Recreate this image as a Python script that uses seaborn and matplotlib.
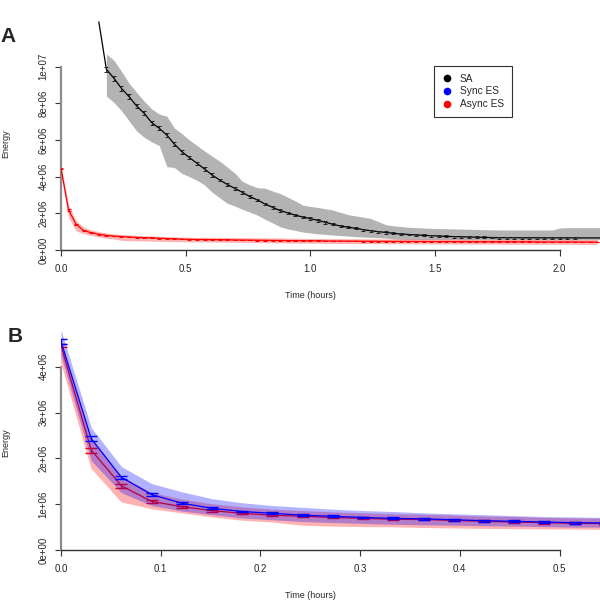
import numpy as np
import pandas as pd
import matplotlib
matplotlib.use("Agg")
import matplotlib.pyplot as plt
import seaborn as sns
from matplotlib.lines import Line2D

# ---------------- data (energy in units of 1e6) ----------------
sample_interval_h = 0.0303

# Simulated annealing (panel A)
sa_start_h = 0.1517
sa_mean = [12.45,
           9.86, 9.37, 8.82, 8.37, 7.86, 7.46, 6.95, 6.64, 6.27, 5.78,
           5.36, 5.04, 4.73, 4.42, 4.09, 3.82, 3.58, 3.36, 3.15, 2.91,
           2.73, 2.51, 2.33, 2.15, 2.03, 1.90, 1.80, 1.71, 1.62, 1.51,
           1.40, 1.31, 1.24, 1.18, 1.11, 1.05, 1.00, 0.96, 0.91, 0.87,
           0.85, 0.82, 0.80, 0.78, 0.76, 0.745, 0.73, 0.72, 0.71, 0.70,
           0.69, 0.68, 0.67, 0.67, 0.67, 0.665, 0.665, 0.665, 0.66, 0.66,
           0.66, 0.66, 0.66]
sa_err = [0.14, 0.13, 0.13, 0.12, 0.12, 0.12, 0.11, 0.11, 0.11, 0.10,
          0.10, 0.10, 0.09, 0.09, 0.09, 0.08, 0.08, 0.08, 0.08, 0.07,
          0.07, 0.07, 0.07, 0.07, 0.07, 0.07, 0.07, 0.07, 0.07, 0.07,
          0.06, 0.06, 0.06, 0.06, 0.06, 0.06, 0.06, 0.06, 0.06, 0.06,
          0.05, 0.05, 0.05, 0.05, 0.05, 0.05, 0.05, 0.05, 0.05, 0.05,
          0.05, 0.05, 0.05, 0.05, 0.05, 0.05, 0.05, 0.05, 0.05, 0.05,
          0.05, 0.05, 0.05]
sa_hi = [10.7, 10.35, 9.75, 9.1, 8.6, 8.12, 7.7, 7.42, 7.3, 6.65,
         6.35, 6.0, 5.7, 5.4, 5.12, 4.85, 4.53, 4.2, 3.75, 3.55,
         3.40, 3.37, 3.22, 3.08, 2.88, 2.68, 2.45, 2.38, 2.32, 2.25,
         2.18, 2.05, 1.93, 1.86, 1.79, 1.72, 1.55, 1.38, 1.32, 1.28,
         1.24, 1.22, 1.20, 1.18, 1.17, 1.16, 1.15, 1.14, 1.13, 1.12,
         1.11, 1.10, 1.09, 1.09, 1.09, 1.09, 1.09, 1.09, 1.09, 1.09,
         1.20, 1.22, 1.22]
sa_lo = [8.4, 8.05, 7.6, 7.05, 6.5, 6.15, 5.9, 5.7, 4.55, 4.5,
         4.18, 4.0, 3.8, 3.55, 3.15, 2.85, 2.55, 2.4, 2.22, 2.07,
         1.9, 1.68, 1.48, 1.27, 1.15, 1.07, 0.98, 0.93, 0.88, 0.85,
         0.82, 0.79, 0.76, 0.73, 0.71, 0.69, 0.67, 0.65, 0.60, 0.59,
         0.58, 0.58, 0.57, 0.57, 0.57, 0.56, 0.56, 0.56, 0.56, 0.56,
         0.56, 0.56, 0.56, 0.56, 0.56, 0.56, 0.56, 0.56, 0.56, 0.56,
         0.56, 0.56, 0.56]
sa_tail_time_h = 2.2
sa_tail_mean = 0.66
sa_tail_hi = 1.22
sa_tail_lo = 0.56

# Asynchronous ES (panels A and B)
async_mean = [4.46, 2.18, 1.40, 1.06, 0.945, 0.86, 0.80, 0.76, 0.735, 0.71,
              0.69, 0.67, 0.665, 0.645, 0.625, 0.61, 0.595, 0.582, 0.576,
              0.57, 0.565, 0.56, 0.555, 0.55, 0.545, 0.54, 0.535, 0.53, 0.525,
              0.52, 0.515, 0.51, 0.505, 0.50, 0.50, 0.495, 0.49, 0.49, 0.485,
              0.485, 0.48, 0.48, 0.475, 0.475, 0.47, 0.47, 0.47, 0.465, 0.465,
              0.46, 0.46, 0.46, 0.455, 0.455, 0.455, 0.45, 0.45, 0.45, 0.45,
              0.445, 0.445, 0.445, 0.445, 0.44, 0.44, 0.44, 0.44, 0.44, 0.44,
              0.435, 0.435, 0.435]
async_err = [0.04, 0.055, 0.04, 0.03, 0.025, 0.02, 0.02, 0.02, 0.02, 0.02,
             0.02, 0.02, 0.02, 0.02, 0.02, 0.02, 0.02, 0.02, 0.02,
             0.02, 0.02, 0.02, 0.02, 0.02, 0.02, 0.02, 0.02, 0.02, 0.02,
             0.02, 0.02, 0.02, 0.02, 0.02, 0.02, 0.02, 0.02, 0.02, 0.02,
             0.02, 0.02, 0.02, 0.02, 0.02, 0.02, 0.02, 0.02, 0.02, 0.02,
             0.02, 0.02, 0.02, 0.02, 0.02, 0.02, 0.02, 0.02, 0.02, 0.02,
             0.02, 0.02, 0.02, 0.02, 0.02, 0.02, 0.02, 0.02, 0.02, 0.02,
             0.02, 0.02, 0.02]
async_hi = [4.6, 2.45, 1.6, 1.25, 1.1, 1.0, 0.93, 0.88, 0.85, 0.82,
            0.80, 0.78, 0.77, 0.75, 0.73, 0.72, 0.70, 0.69, 0.68,
            0.70, 0.695, 0.69, 0.685, 0.68, 0.675, 0.67, 0.665, 0.66, 0.655,
            0.65, 0.645, 0.64, 0.635, 0.63, 0.63, 0.625, 0.62, 0.62, 0.615,
            0.615, 0.61, 0.61, 0.605, 0.605, 0.60, 0.60, 0.60, 0.595, 0.595,
            0.59, 0.59, 0.59, 0.585, 0.585, 0.585, 0.58, 0.58, 0.58, 0.58,
            0.575, 0.575, 0.575, 0.575, 0.57, 0.57, 0.57, 0.57, 0.57, 0.57,
            0.565, 0.565, 0.565]
async_lo = [4.1, 1.78, 1.04, 0.89, 0.80, 0.71, 0.64, 0.60, 0.53, 0.51,
            0.50, 0.495, 0.48, 0.47, 0.46, 0.455, 0.45, 0.445, 0.44,
            0.44, 0.435, 0.43, 0.425, 0.42, 0.415, 0.41, 0.405, 0.40, 0.395,
            0.39, 0.385, 0.38, 0.375, 0.37, 0.37, 0.365, 0.36, 0.36, 0.355,
            0.355, 0.35, 0.35, 0.345, 0.345, 0.34, 0.34, 0.34, 0.335, 0.335,
            0.33, 0.33, 0.33, 0.325, 0.325, 0.325, 0.32, 0.32, 0.32, 0.32,
            0.315, 0.315, 0.315, 0.315, 0.31, 0.31, 0.31, 0.31, 0.31, 0.31,
            0.305, 0.305, 0.305]

# Synchronous ES (panel B)
sync_mean = [4.55, 2.43, 1.585, 1.21, 1.02, 0.91, 0.84, 0.80, 0.76, 0.735,
             0.71, 0.69, 0.68, 0.66, 0.64, 0.626, 0.61, 0.596, 0.59]
sync_err = [0.05, 0.05, 0.03, 0.03, 0.025, 0.025, 0.02, 0.02, 0.02, 0.02,
            0.02, 0.02, 0.02, 0.02, 0.02, 0.02, 0.02, 0.02, 0.02]
sync_hi = [4.8, 2.67, 1.82, 1.45, 1.27, 1.12, 1.03, 0.97, 0.93, 0.89,
           0.86, 0.84, 0.81, 0.79, 0.77, 0.75, 0.73, 0.72, 0.71]
sync_lo = [4.25, 1.95, 1.25, 0.97, 0.85, 0.77, 0.70, 0.66, 0.62, 0.60,
           0.58, 0.56, 0.55, 0.54, 0.53, 0.52, 0.51, 0.50, 0.50]

legend_labels = ["SA", "Sync ES", "Async ES"]
a_xticks = [0.0, 0.5, 1.0, 1.5, 2.0]
a_xticklabels = ["0.0", "0.5", "1.0", "1.5", "2.0"]
a_yticks = [0, 2, 4, 6, 8, 10]
a_yticklabels = ["0e+00", "2e+06", "4e+06", "6e+06", "8e+06", "1e+07"]
b_xticks = [0.0, 0.1, 0.2, 0.3, 0.4, 0.5]
b_xticklabels = ["0.0", "0.1", "0.2", "0.3", "0.4", "0.5"]
b_yticks = [0, 1, 2, 3, 4]
b_yticklabels = ["0e+00", "1e+06", "2e+06", "3e+06", "4e+06"]

SCALE = 1e6

# ---------------- build tables ----------------
sa_time = sa_start_h + sample_interval_h * np.arange(len(sa_mean))
sa_df = pd.DataFrame({"t": np.append(sa_time, sa_tail_time_h),
                      "e": np.append(sa_mean, sa_tail_mean) * SCALE})
sa_band = pd.DataFrame({"t": np.append(sa_time[1:], sa_tail_time_h),
                        "hi": np.append(sa_hi, sa_tail_hi) * SCALE,
                        "lo": np.append(sa_lo, sa_tail_lo) * SCALE})
as_time = sample_interval_h * np.arange(len(async_mean))
as_df = pd.DataFrame({"t": as_time, "e": np.array(async_mean) * SCALE,
                      "err": np.array(async_err) * SCALE,
                      "hi": np.array(async_hi) * SCALE,
                      "lo": np.array(async_lo) * SCALE})
sy_time = sample_interval_h * np.arange(len(sync_mean))
sy_df = pd.DataFrame({"t": sy_time, "e": np.array(sync_mean) * SCALE,
                      "err": np.array(sync_err) * SCALE,
                      "hi": np.array(sync_hi) * SCALE,
                      "lo": np.array(sync_lo) * SCALE})

# ---------------- style ----------------
sns.set_style("ticks")
plt.rcParams['font.family'] = ['Liberation Sans', 'DejaVu Sans']
plt.rcParams['axes.linewidth'] = 1.0

fig = plt.figure(figsize=(6, 6), dpi=100)
W = H = 600.0
axA = fig.add_axes([61 / W, 1 - 250 / H, 539 / W, 230 / H])
axB = fig.add_axes([61 / W, 1 - 550 / H, 539 / W, 230 / H])

GREY = "#b3b3b3"

# ---- Panel A ----
axA.fill_between(sa_band["t"], sa_band["lo"], sa_band["hi"], color=GREY, lw=0, zorder=1)
sns.lineplot(data=sa_df, x="t", y="e", ax=axA, color="black", lw=0.9,
             sort=False, errorbar=None, zorder=3)
axA.errorbar(sa_time[1:], np.array(sa_mean[1:]) * SCALE, yerr=np.array(sa_err) * SCALE,
             fmt="none", ecolor="#222222", elinewidth=0.7, capsize=1.6, capthick=0.7, zorder=3)
axA.fill_between(as_df["t"], as_df["lo"], as_df["hi"], color="red", alpha=0.3, lw=0, zorder=4)
sns.lineplot(data=as_df, x="t", y="e", ax=axA, color="red", lw=0.9,
             sort=False, errorbar=None, zorder=5)
axA.errorbar(as_df["t"], as_df["e"], yerr=as_df["err"], fmt="none", ecolor="red",
             elinewidth=0.7, capsize=1.6, capthick=0.7, zorder=5)

axA.set_xlim(0, 539 / 249.3)
axA.set_ylim(0, 12.55 * SCALE)

# ---- Panel B ----
axB.fill_between(as_df["t"], as_df["lo"], as_df["hi"], color="red", alpha=0.3, lw=0, zorder=1)
sns.lineplot(data=as_df, x="t", y="e", ax=axB, color="red", lw=0.9,
             sort=False, errorbar=None, zorder=2)
axB.errorbar(as_df["t"], as_df["e"], yerr=as_df["err"], fmt="none", ecolor="red",
             elinewidth=0.9, capsize=4.5, capthick=1.0, zorder=2)
axB.fill_between(sy_df["t"], sy_df["lo"], sy_df["hi"], color="blue", alpha=0.3, lw=0, zorder=3)
sns.lineplot(data=sy_df, x="t", y="e", ax=axB, color="blue", lw=0.9,
             sort=False, errorbar=None, zorder=4)
axB.errorbar(sy_df["t"], sy_df["e"], yerr=sy_df["err"], fmt="none", ecolor="blue",
             elinewidth=0.9, capsize=4.5, capthick=1.0, zorder=4)

axB.set_xlim(0, 539 / 997.0)
axB.set_ylim(0, 230 / 45.83 * SCALE)

# ---- axes styling (R-like) ----
for ax, xt, xtl, yt, ytl in [(axA, a_xticks, a_xticklabels, a_yticks, a_yticklabels),
                             (axB, b_xticks, b_xticklabels, b_yticks, b_yticklabels)]:
    ax.set_xlabel("")
    ax.set_ylabel("")
    for s in ["top", "right"]:
        ax.spines[s].set_visible(False)
    ax.spines["bottom"].set_bounds(xt[0], xt[-1])
    ax.spines["left"].set_bounds(yt[0] * SCALE, yt[-1] * SCALE)
    ax.spines["left"].set_color("#8c8c8c")
    ax.spines["left"].set_linewidth(1.6)
    ax.spines["bottom"].set_color("#333333")
    ax.set_xticks(xt)
    ax.set_xticklabels(xtl)
    ax.set_yticks([v * SCALE for v in yt])
    ax.set_yticklabels(ytl, rotation=90, va="center")
    ax.tick_params(axis="both", labelsize=7, length=4, width=0.8, color="#333333",
                   direction="out")
    ax.tick_params(axis="x", pad=6)
    ax.tick_params(axis="y", pad=5)
    ax.set_facecolor("white")
    ax.grid(False)

# legend for panel A
handles = [Line2D([], [], ls="none", marker="o", ms=4.5, color=c)
           for c in ["black", "blue", "red"]]
leg = axA.legend(handles, legend_labels, loc="upper left",
                 bbox_to_anchor=((434 - 61) / 539, (250 - 66) / 230),
                 fontsize=7.3, frameon=True, fancybox=False, framealpha=1,
                 edgecolor="#333333", borderpad=0.75, labelspacing=0.28,
                 handlelength=1.0, handletextpad=0.8, borderaxespad=0)
leg.get_frame().set_linewidth(0.8)

# text labels
fig.text(8 / W, 1 - 36 / H, "A", fontsize=15, fontweight="bold", ha="center", va="center")
fig.text(15 / W, 1 - 336 / H, "B", fontsize=15, fontweight="bold", ha="center", va="center")
fig.text(6 / W, 1 - 144 / H, "Energy", fontsize=6.5, rotation=90, ha="center", va="center")
fig.text(6 / W, 1 - 443 / H, "Energy", fontsize=6.5, rotation=90, ha="center", va="center")
fig.text(310 / W, 1 - 295 / H, "Time (hours)", fontsize=6.5, ha="center", va="center")
fig.text(310 / W, 1 - 595 / H, "Time (hours)", fontsize=6.5, ha="center", va="center")

fig.savefig("out.png", dpi=100)
